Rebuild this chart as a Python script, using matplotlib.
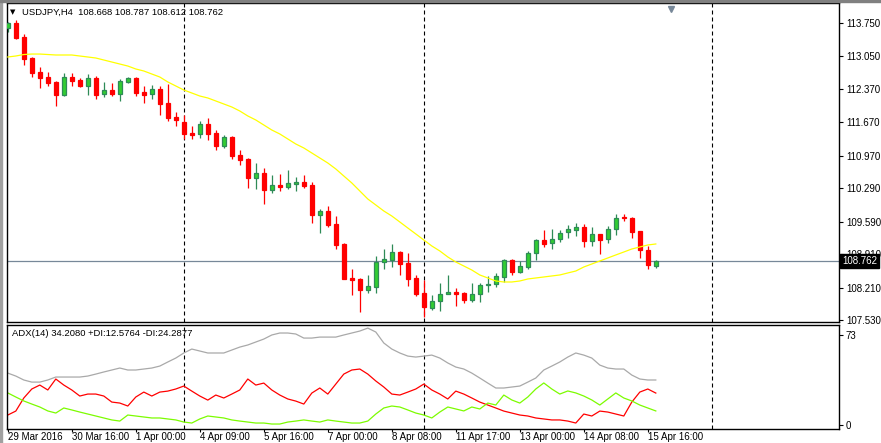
import matplotlib
matplotlib.use("Agg")
import matplotlib.pyplot as plt
from matplotlib.patches import Rectangle
import matplotlib.transforms as mtransforms

plt.rcParams['font.family'] = ['Liberation Sans', 'DejaVu Sans']

# USDJPY H4 candles
opens = [113.645, 113.75, 113.457, 113.017, 112.724, 112.619, 112.515, 112.242, 112.619, 112.556,
         112.431, 112.598, 112.263, 112.347, 112.263, 112.515, 112.598, 112.305, 112.263, 112.368,
         112.075, 111.782, 111.677, 111.447, 111.426, 111.635, 111.447, 111.174, 111.363, 110.986,
         110.902, 110.504, 110.609, 110.253, 110.358, 110.316, 110.379, 110.421, 110.358, 109.729,
         109.813, 109.541, 109.122, 108.41, 108.389, 108.159, 108.222, 108.745, 108.787, 108.955,
         108.724, 108.41, 108.096, 107.782, 107.928, 108.075, 108.117, 108.096, 107.949, 108.075,
         108.264, 108.285, 108.431, 108.787, 108.536, 108.64, 108.934, 109.206, 109.143, 109.227,
         109.374, 109.415, 109.478, 109.185, 109.332, 109.227, 109.436, 109.687, 109.667, 109.394,
         108.997, 108.668]
highs = [113.771, 113.813, 113.52, 113.03, 112.829, 112.724, 112.53, 112.703, 112.703, 112.598,
         112.682, 112.64, 112.515, 112.494, 112.577, 112.619, 112.61, 112.431, 112.452, 112.431,
         112.473, 111.886, 111.823, 111.593, 111.698, 111.761, 111.51, 111.405, 111.384, 111.09,
         110.923, 110.818, 110.714, 110.567, 110.588, 110.672, 110.525, 110.567, 110.421, 109.855,
         109.918, 109.708, 109.143, 108.599, 108.41, 108.473, 108.871, 109.017, 109.122, 108.976,
         108.934, 108.473, 108.368, 108.054, 108.306, 108.473, 108.201, 108.117, 108.306, 108.306,
         108.452, 108.515, 108.808, 108.808, 108.766, 108.976, 109.227, 109.415, 109.436, 109.415,
         109.52, 109.562, 109.541, 109.478, 109.34, 109.499, 109.75, 109.75, 109.687, 109.40,
         109.08, 108.787]
lows = [113.562, 113.415, 112.87, 112.619, 112.389, 112.431, 112.012, 112.221, 112.431, 112.41,
        112.242, 112.159, 112.2, 112.221, 112.117, 112.494, 112.221, 112.075, 112.159, 111.823,
        111.698, 111.593, 111.321, 111.321, 111.342, 111.3, 111.09, 111.132, 110.902, 110.776,
        110.295, 110.274, 109.96, 110.19, 110.232, 110.274, 110.232, 110.295, 109.562, 109.353,
        109.478, 109.017, 108.38, 108.054, 107.698, 108.096, 108.096, 108.599, 108.64, 108.473,
        108.243, 108.033, 107.594, 107.74, 107.719, 108.07, 107.824, 107.887, 107.908, 107.908,
        108.117, 108.222, 108.327, 108.473, 108.515, 108.599, 108.787, 109.059, 109.017, 109.164,
        109.248, 109.29, 109.059, 109.08, 108.913, 109.143, 109.311, 109.604, 109.248, 108.829,
        108.599, 108.612]
closes = [113.75, 113.436, 112.996, 112.703, 112.598, 112.494, 112.242, 112.619, 112.536, 112.431,
          112.598, 112.242, 112.347, 112.263, 112.536, 112.598, 112.284, 112.242, 112.368, 112.054,
          111.761, 111.719, 111.426, 111.405, 111.635, 111.426, 111.174, 111.363, 110.965, 110.881,
          110.504, 110.609, 110.253, 110.358, 110.316, 110.4, 110.421, 110.337, 109.729, 109.813,
          109.52, 109.101, 108.389, 108.368, 108.159, 108.243, 108.745, 108.808, 108.955, 108.703,
          108.389, 108.075, 107.803, 107.928, 108.075, 108.117, 108.075, 107.949, 108.075, 108.264,
          108.285, 108.452, 108.787, 108.536, 108.661, 108.934, 109.206, 109.122, 109.227, 109.353,
          109.436, 109.478, 109.185, 109.332, 109.206, 109.436, 109.667, 109.667, 109.374, 108.997,
          108.682, 108.762]

# yellow moving average
ma = [113.038, 113.059, 113.09, 113.1, 113.1, 113.09, 113.08, 113.08, 113.08, 113.059,
      113.038, 113.017, 112.975, 112.933, 112.891, 112.849, 112.787, 112.745, 112.682, 112.619,
      112.515, 112.431, 112.347, 112.284, 112.221, 112.18, 112.117, 112.054, 111.991, 111.907,
      111.803, 111.719, 111.614, 111.509, 111.426, 111.321, 111.216, 111.133, 111.028, 110.923,
      110.818, 110.693, 110.546, 110.4, 110.232, 110.064, 109.939, 109.813, 109.708, 109.583,
      109.457, 109.332, 109.206, 109.08, 108.976, 108.85, 108.745, 108.661, 108.577, 108.473,
      108.41, 108.347, 108.326, 108.326, 108.347, 108.389, 108.41, 108.431, 108.452, 108.473,
      108.515, 108.556, 108.64, 108.703, 108.766, 108.829, 108.892, 108.954, 109.017, 109.059,
      109.101, 109.122]

# ADX(14) panel
adx = [42.1, 39.7, 36.5, 34.8, 34.8, 36.5, 38.9, 38.9, 38.9, 38.9,
       39.7, 41.3, 43.0, 44.6, 46.2, 44.6, 44.6, 45.4, 46.2, 47.8,
       51.1, 54.3, 58.4, 61.6, 60.0, 58.4, 58.4, 58.4, 60.8, 63.2,
       64.9, 67.3, 69.7, 73.0, 74.6, 74.6, 73.8, 70.5, 70.5, 71.3,
       71.3, 71.3, 73.0, 74.6, 76.2, 78.6, 75.4, 66.5, 61.6, 58.4,
       55.9, 55.1, 55.9, 56.7, 54.3, 50.3, 47.0, 45.4, 42.1, 38.1,
       34.0, 30.0, 30.0, 30.8, 31.6, 34.8, 38.1, 44.6, 47.8, 51.1,
       55.1, 58.4, 56.7, 54.3, 48.6, 46.2, 45.4, 45.4, 40.5, 37.3,
       36.5, 36.5]
minus_di = [8.1, 11.3, 21.9, 29.2, 32.4, 28.4, 37.3, 32.4, 28.4, 23.5,
            25.1, 25.1, 23.5, 18.6, 17.8, 15.4, 22.7, 26.7, 23.5, 26.7,
            27.5, 29.2, 31.6, 27.5, 23.5, 20.2, 24.3, 21.9, 25.1, 28.4,
            37.3, 32.4, 34.0, 28.4, 24.3, 21.1, 19.4, 17.0, 25.9, 30.0,
            25.1, 33.2, 41.3, 44.6, 45.4, 41.3, 35.7, 30.8, 25.1, 24.3,
            26.7, 29.2, 33.2, 28.4, 25.1, 21.1, 27.5, 25.1, 21.9, 18.6,
            16.2, 13.8, 11.3, 9.7, 8.1, 7.3, 5.7, 4.9, 4.1, 4.1,
            3.2, 1.6, 8.9, 7.3, 11.3, 10.5, 8.9, 7.3, 18.6, 26.7,
            29.2, 25.9]
plus_di = [26.0, 22.7, 19.5, 17.0, 14.6, 11.4, 9.7, 13.8, 12.2, 10.5,
           8.9, 7.3, 5.7, 4.1, 3.2, 8.1, 7.3, 6.5, 5.7, 5.7,
           4.9, 4.1, 2.4, 1.6, 4.9, 7.3, 6.5, 5.7, 4.1, 3.2,
           2.4, 1.6, 1.6, 0.8, 0.8, 2.4, 3.2, 4.1, 3.2, 2.4,
           4.1, 3.2, 2.4, 1.6, 1.6, 3.2, 8.9, 13.8, 15.4, 14.6,
           12.2, 9.7, 8.1, 5.7, 10.5, 14.6, 13.0, 11.4, 14.6, 13.0,
           17.8, 16.2, 24.3, 20.3, 17.8, 22.7, 29.2, 34.1, 29.2, 25.1,
           27.6, 26.0, 23.5, 20.3, 16.2, 21.1, 26.0, 21.9, 19.5, 16.2,
           13.8, 11.4]

price_ticks = [113.750, 113.050, 112.370, 111.670, 110.970, 110.290, 109.590, 108.910, 108.210, 107.530]
time_ticks = [0, 8, 16, 24, 32, 40, 48, 56, 64, 72, 80]
time_labels = ['29 Mar 2016', '30 Mar 16:00', '1 Apr 00:00', '4 Apr 09:00', '5 Apr 16:00',
               '7 Apr 00:00', '8 Apr 08:00', '11 Apr 17:00', '13 Apr 00:00', '14 Apr 08:00', '15 Apr 16:00']
separators = [22, 52, 88]
last_price = 108.762

W, H = 881, 443
fig = plt.figure(figsize=(W / 100, H / 100), dpi=100)
fig.patch.set_facecolor('white')

ax = fig.add_axes([7 / W, 1 - 322 / H, 832 / W, 319 / H])
ax2 = fig.add_axes([7 / W, 1 - 429 / H, 832 / W, 104 / H])

n = len(opens)
idx = list(range(n))

# candles
for i in idx:
    o, h, l, c = opens[i], highs[i], lows[i], closes[i]
    if c >= o:
        wick, face, edge = '#2E8B57', '#32CD32', '#2E8B57'
    else:
        wick, face, edge = '#FF0000', '#FF0000', '#FF0000'
    ax.vlines(i, l, h, color=wick, lw=0.9, zorder=2)
    ax.bar(i, abs(c - o), bottom=min(o, c), width=0.5, color=face,
           edgecolor=edge, linewidth=0.9, zorder=3)

ax.plot(idx, ma, color='#FFFF00', lw=0.9, zorder=4)
ax.axhline(last_price, color='#778899', lw=0.9, zorder=1)

ax.set_xlim(-0.1, 103.9)
ax.set_ylim(107.488, 114.169)
ax.set_xticks([])
ax.yaxis.tick_right()
ax.set_yticks(price_ticks)
ax.set_yticklabels(['%.3f' % p for p in price_ticks])
ax.tick_params(axis='y', direction='out', length=3, width=0.8, pad=2, labelsize=7, colors='black')

# indicator panel
ax2.plot(idx, adx, color='#A9A9A9', lw=0.9)
ax2.plot(idx, minus_di, color='#FF0000', lw=0.9)
ax2.plot(idx, plus_di, color='#7CFC00', lw=0.9)
ax2.set_xlim(-0.1, 103.9)
ax2.set_ylim(-3.24, 81.1)
ax2.yaxis.tick_right()
ax2.set_yticks([0, 73])
ax2.set_yticklabels(['0', '73'])
ax2.tick_params(axis='y', direction='out', length=3, width=0.8, pad=2, labelsize=7)
ax2.set_xticks(time_ticks)
ax2.set_xticklabels(time_labels)
ax2.tick_params(axis='x', direction='out', length=2, width=0.8, pad=0.5, labelsize=7)
for lab in ax2.get_xticklabels():
    lab.set_ha('left')

for a in (ax, ax2):
    for s in a.spines.values():
        s.set_color('black')
        s.set_linewidth(1.0)
    for sx in separators:
        a.axvline(sx, color='black', lw=0.8, linestyle=(0, (3.6, 2.7)), zorder=1)

# chart shift marker
trans = mtransforms.blended_transform_factory(ax.transData, ax.transAxes)
ax.plot([82.9], [0.981], marker='v', color='#778899', markersize=5, transform=trans, clip_on=False)

# texts
fig.text(10 / W, 1 - 12 / H, '\u25bc', fontsize=5, color='black', va='center', family='DejaVu Sans')
fig.text(22 / W, 1 - 12 / H, 'USDJPY,H4  108.668 108.787 108.612 108.762', fontsize=6.8, va='center')
fig.text(12 / W, 1 - 333 / H, 'ADX(14) 34.2080 +DI:12.5764 -DI:24.2877', fontsize=6.8, va='center')
fig.text(842 / W, 1 - 261 / H, '%.3f' % last_price, fontsize=7, color='white', va='center',
         bbox=dict(boxstyle='square,pad=0.2', facecolor='black', edgecolor='black'))

# window frame
fig.patches.append(Rectangle((0, 0), 2 / W, 1, transform=fig.transFigure, color='#A0A0A0', zorder=0))
fig.patches.append(Rectangle((0, 1 - 1.5 / H), 1, 1.5 / H, transform=fig.transFigure, color='#808080', zorder=0))

fig.savefig('out.png', dpi=100)
